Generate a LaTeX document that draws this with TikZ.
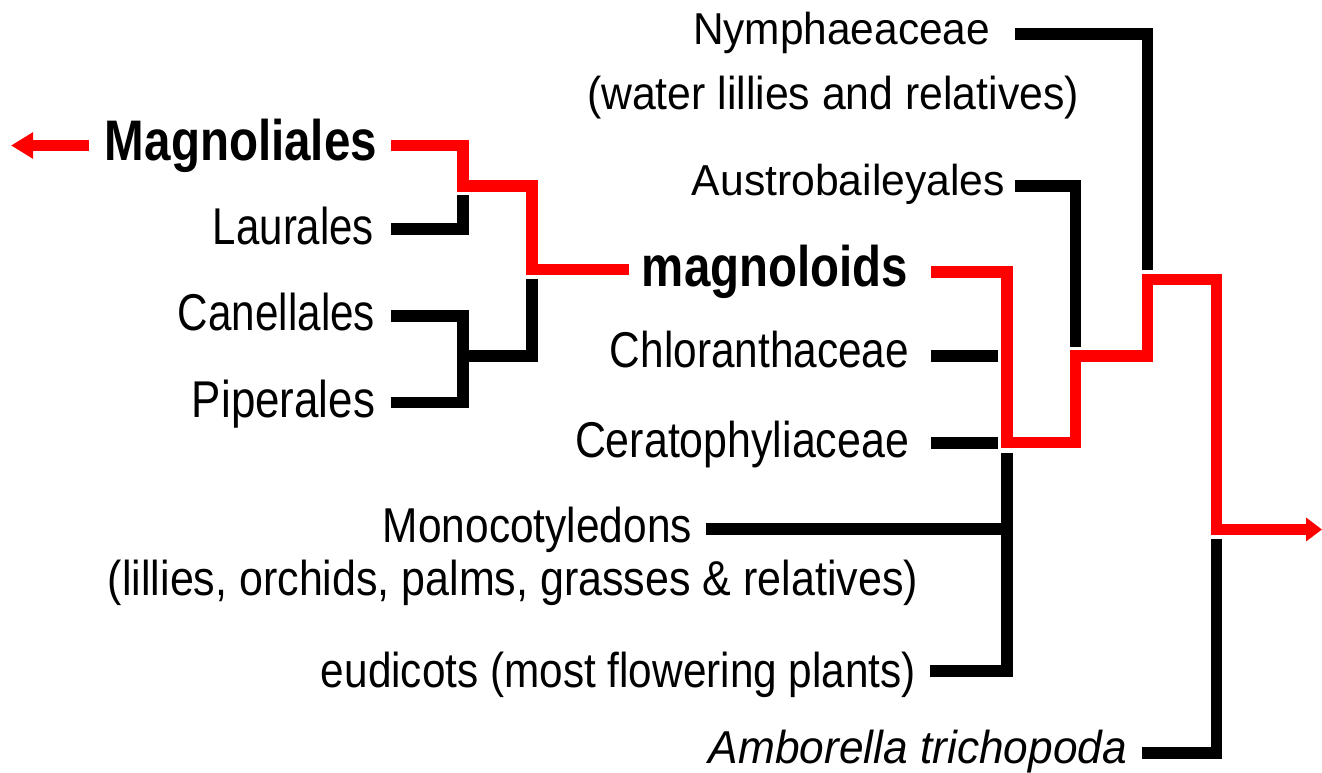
\documentclass[tikz,border=0pt]{standalone}
\usepackage{fontspec}
\setmainfont{Liberation Sans}
\usetikzlibrary{arrows.meta}
\definecolor{cred}{RGB}{255,0,0}
\newlength\px \setlength\px{0.75pt}
\newcommand\T[3]{\resizebox{#1\px}{\height}{\fontsize{#2}{#2}\selectfont #3}}
\begin{document}
\begin{tikzpicture}[x=0.75pt,y=-0.75pt,
  lbl/.style={anchor=base east, inner sep=0pt, outer sep=0pt},
  blk/.style={draw=black, line width=11.5\px, line cap=butt, line join=miter},
  rd/.style={draw=cred, line width=11.5\px, line cap=butt, line join=miter}]
\useasboundingbox (0,0) rectangle (1322,773);
% labels
\node[lbl] (nym) at (990,45) {\T{297}{33.5}{Nymphaeaceae}};
\node[lbl] (wat) at (1079,110) {\T{492}{34.6}{(water lillies and relatives)}};
\node[lbl] (aus) at (1005,196) {\T{313}{32.5}{Austrobaileyales}};
\node[lbl] (mgs) at (908,287) {\T{266}{42.9}{\bfseries magnoloids}};
\node[lbl] (chl) at (909,368) {\T{299}{37.7}{Chloranthaceae}};
\node[lbl] (cer) at (909,458) {\T{334}{37.7}{Ceratophyliaceae}};
\node[lbl] (mon) at (692,542) {\T{309}{36.7}{Monocotyledons}};
\node[lbl] (lil) at (918,595) {\T{810}{36.7}{(lillies, orchids, palms, grasses \& relatives)}};
\node[lbl] (eud) at (916,687) {\T{595}{36.7}{eudicots (most flowering plants)}};
\node[lbl] (amb) at (1127,763) {\T{418}{34.6}{\itshape Amborella trichopoda}};
\node[lbl] (mag) at (377,161) {\T{272}{42.9}{\bfseries Magnoliales}};
\node[lbl] (lau) at (374,245) {\T{161}{38.8}{Laurales}};
\node[lbl] (can) at (375,331) {\T{197}{38.8}{Canellales}};
\node[lbl] (pip) at (375,418) {\T{183}{38.8}{Piperales}};
% junction coordinates
\coordinate (magL) at (391,145.5);
\coordinate (lauL) at (391,229);
\coordinate (canL) at (391,316);
\coordinate (pipL) at (391,402.5);
\coordinate (leftTip) at (11,145.5);
\coordinate (leftStart) at (88.6,145.5);
\coordinate (mgsL) at (931,272);
\coordinate (chlL) at (931,356);
\coordinate (cerL) at (931,443);
\coordinate (monL) at (706,529);
\coordinate (eudL) at (930,671);
\coordinate (nymL) at (1015,34);
\coordinate (ausL) at (1015,186);
\coordinate (ambL) at (1142,753);
\coordinate (rightTip) at (1322,529.5);
% black branches
\draw[blk] (lauL) -- (463,229) -- (463,195);
\draw[blk] (canL) -- (463,316) -- (463,402.5) -- (pipL);
\draw[blk] (463,356) -- (532,356) -- (532,279);
\draw[blk] (chlL) -- (998,356);
\draw[blk] (cerL) -- (998,443);
\draw[blk] (monL) -- (1007,529);
\draw[blk] (eudL) -- (1007,671) -- (1007,453);
\draw[blk] (nymL) -- (1147.5,34) -- (1147.5,270);
\draw[blk] (ausL) -- (1075.5,186) -- (1075.5,347);
\draw[blk] (ambL) -- (1216.5,753) -- (1216.5,539);
% red path
\draw[rd, -{Triangle[length=16.5pt,width=18.75pt]}] (leftStart) -- (leftTip);
\draw[rd] (magL) -- (463,145.5) -- (463,186) -- (532,186) -- (532,269.5) -- (629,269.5);
\draw[rd, -{Triangle[length=12pt,width=17.25pt]}] (mgsL) -- (1007,272) -- (1007,442.5) -- (1075.5,442.5) -- (1075.5,356) -- (1147.5,356) -- (1147.5,279.5) -- (1216.5,279.5) -- (1216.5,529.5) -- (rightTip);
\end{tikzpicture}
\end{document}
